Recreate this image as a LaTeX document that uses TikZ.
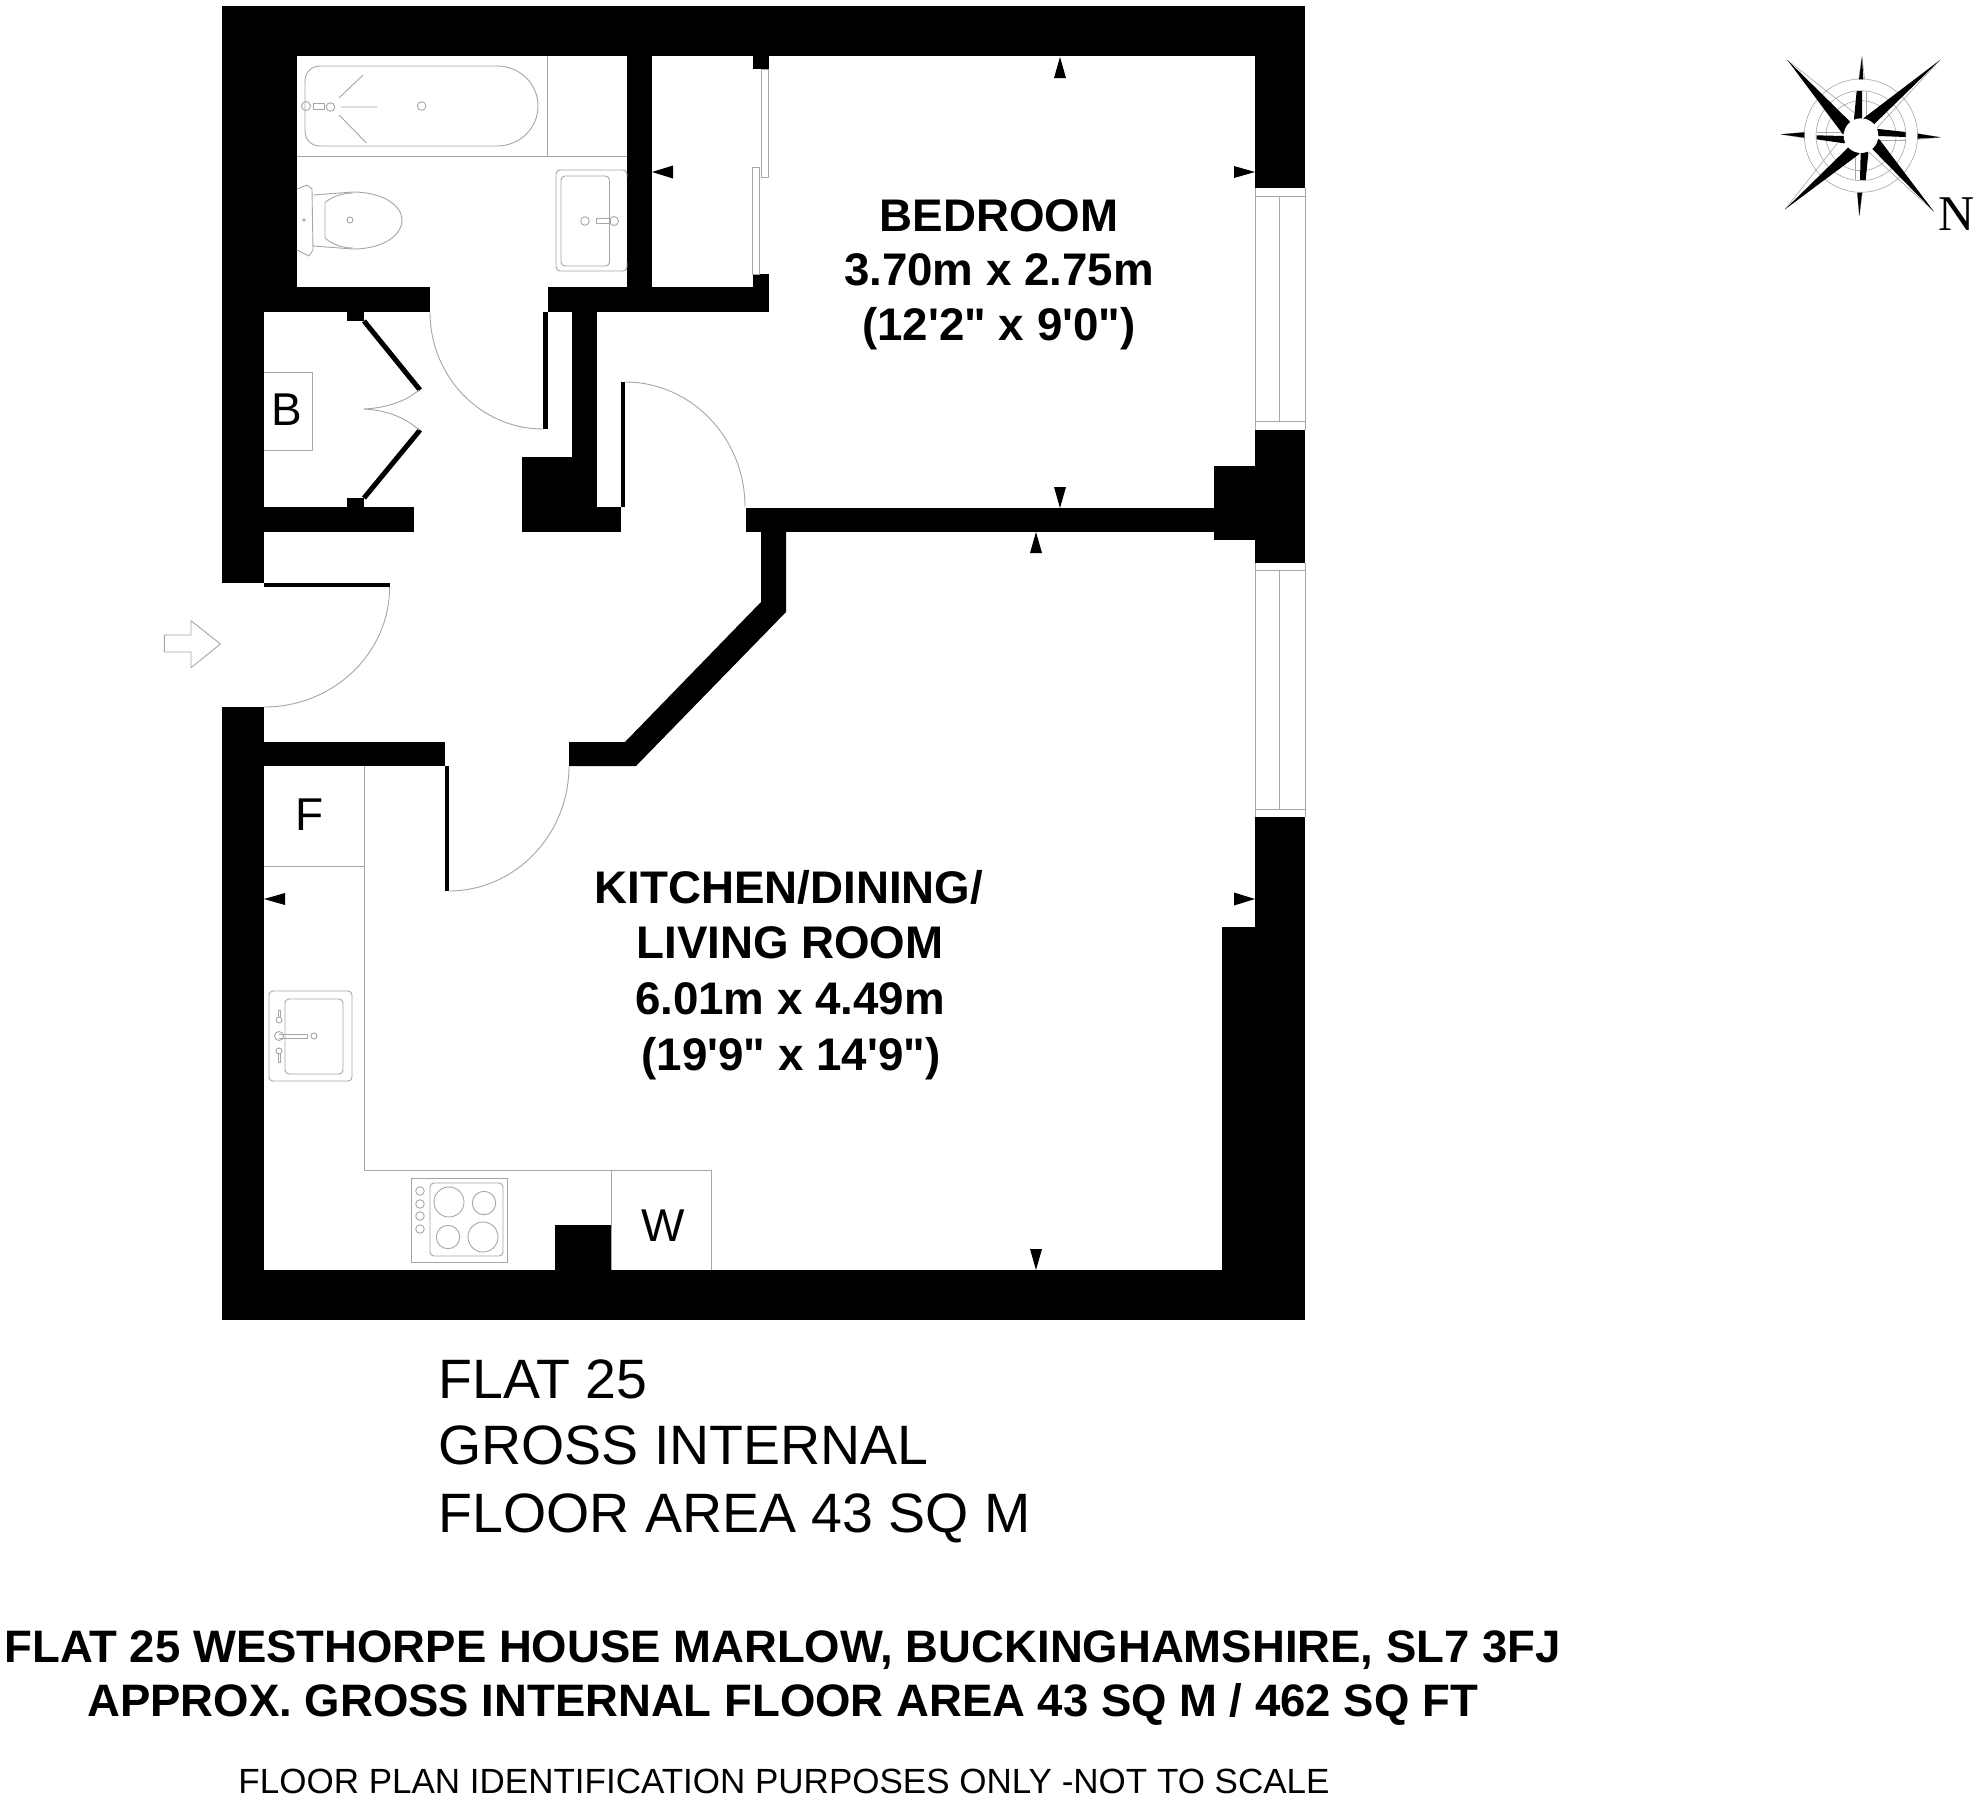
\documentclass[tikz,border=0pt]{standalone}
\usepackage{fontspec}
\setmainfont[Ligatures=TeXOff]{Liberation Sans}
\newfontfamily\serifN{Liberation Serif}
\usetikzlibrary{calc}
\definecolor{linegray}{HTML}{A6A6A6}
\tikzset{
  wall/.style={fill=black,draw=none},
  thin line/.style={draw=linegray,line width=0.9pt,line join=round},
  compass line/.style={draw=linegray,line width=0.6pt,line join=round},
  leaf/.style={draw=black,line width=5pt},
  label/.style={inner sep=0pt,outer sep=0pt,text=black},
  roomtxt/.style={label,anchor=base,font=\fontsize{45.7}{45.7}\selectfont\bfseries},
  lettertxt/.style={label,anchor=base,font=\fontsize{46}{46}\selectfont},
  areatxt/.style={label,anchor=base west,font=\fontsize{55.5}{55.5}\selectfont},
  headtxt/.style={label,anchor=base,font=\fontsize{45.5}{45.5}\selectfont\bfseries},
}
\newcommand\qarc[3]{\draw[thin line] (#1) .. controls ($(#1)!.5523!(#2)$) and ($(#3)!.5523!(#2)$) .. (#3);}
\newcommand\wrect[2]{\fill[wall] (#1) rectangle (#2);}
\begin{document}
\begin{tikzpicture}[x=1pt,y=-1pt]
\useasboundingbox (0,0) rectangle (1976,1800);
\fill[white] (0,0) rectangle (1976,1800);
% walls
\wrect{222,6}{1305,56}
\wrect{222,6}{264,583}
\wrect{222,6}{297,312}
\wrect{222,287}{430,312}
\wrect{547.5,287}{768.7,312}
\wrect{627,56}{652,287}
\wrect{752.6,56}{768.7,69}
\wrect{752.6,274}{768.7,287}
\wrect{572,312}{597,507}
\wrect{522,457}{597,532}
\wrect{597,507}{621,532}
\wrect{347,312}{364,321}
\wrect{347,498}{364,507}
\wrect{264,507}{413.5,532}
\wrect{746,508}{1214,532}
\fill[wall] (761,532)--(786,532)--(786,612)--(636,766)--(569,766)--(569,742)--(625,742)--(761,602)--cycle;
\wrect{1255,6}{1305,188}
\wrect{1255,429.5}{1305,563}
\wrect{1214,466}{1255,540}
\wrect{1255,817}{1305,1320}
\wrect{1222,926.5}{1255,1320}
\wrect{222,1270}{1305,1320}
\wrect{222,707}{264,1320}
\wrect{264,742}{444.7,766}
\wrect{555,1225}{611.7,1270}
% door leaves
\wrect{621,382}{625,507}
\wrect{543,312}{547.5,429}
\wrect{264,583}{389.6,587}
\wrect{444.7,766}{448.5,891}
\draw[leaf] (364,321)--(420,390);
\draw[leaf] (364,498)--(420,430);
% door swings
\qarc{430,312}{430,429}{543,429}
\qarc{625,382}{745,382}{745,507}
\qarc{389.6,587}{389.6,707}{264,707}
\qarc{569,766}{569,891}{448.5,891}
\draw[thin line] (364,409) .. controls (385,408) and (405,402) .. (419,390);
\draw[thin line] (364,409) .. controls (385,410) and (405,417) .. (419,430);
% sliding wardrobe doors
\draw[thin line] (761.4,69) rectangle (768.7,177);
\draw[thin line] (752.6,167) rectangle (759.5,274);
% windows
\draw[thin line] (1255,188)--(1255,429.5) (1305,188)--(1305,429.5) (1279.6,196)--(1279.6,421) (1255,196)--(1305,196) (1255,421)--(1305,421);
\draw[thin line] (1255,563)--(1255,817) (1305,563)--(1305,817) (1279.6,570)--(1279.6,809) (1255,570)--(1305,570) (1255,809)--(1305,809);
% dimension arrows
\fill (1060,57)--(1054,78)--(1066,78)--cycle;
\fill (1255,172)--(1234,166)--(1234,178)--cycle;
\fill (1060,508)--(1054,487)--(1066,487)--cycle;
\fill (1036,532)--(1030,553)--(1042,553)--cycle;
\fill (652,172)--(673,165.5)--(673,178.5)--cycle;
\fill (264,899)--(285,893)--(285,905)--cycle;
\fill (1255,899)--(1234,892.5)--(1234,905.5)--cycle;
\fill (1036,1270)--(1030,1249)--(1042,1249)--cycle;
% entrance arrow
\draw[thin line] (164.4,635)--(191,635)--(191,620.7)--(220.4,644)--(191,667.7)--(191,652)--(164.4,652)--cycle;
% fittings: bathroom
\draw[thin line] (297,156.4)--(627,156.4) (547.5,56)--(547.5,156.4);
\draw[thin line] (321,66)--(497,66) .. controls (520,66) and (538,84) .. (538,106) .. controls (538,128) and (520,146) .. (497,146)--(321,146) .. controls (311,146) and (305,140) .. (305,130)--(305,82) .. controls (305,72) and (311,66) .. (321,66)--cycle;
\draw[thin line] (306,106) circle (4.5);
\draw[thin line] (313,103.5) rectangle (324,109.5);
\draw[thin line] (330.5,107) circle (4.3) (421.6,106) circle (4.3);
\draw[thin line] (339,98)--(363,75) (341,107)--(377,107) (339,115)--(366.5,143);
\draw[thin line] (297,189)--(307,185)--(312,189)--(313,250)--(309,256)--(297,250);
\draw[thin line] (313,195)--(353,192) .. controls (382,192) and (402,205) .. (402,220) .. controls (402,236) and (382,249) .. (353,249)--(313,246);
\draw[thin line] (325,202.5) .. controls (333,196) and (343,193) .. (353,193) (325,202.5)--(325,238) .. controls (333,245) and (343,248) .. (353,248);
\draw[thin line] (350,220) circle (3) (304,220) circle (1.2);
\draw[thin line,rounded corners=4pt] (627,177)--(627,170)--(556,170)--(556,271)--(627,271)--(627,262);
\draw[thin line,rounded corners=4pt] (561,176) rectangle (609.5,266);
\draw[thin line] (585,221) circle (4.3) (614,221) circle (4.5);
\draw[thin line] (596.5,218.5) rectangle (610,223.5);
% cupboard box
\draw[thin line] (264,372.5)--(312,372.5)--(312,450)--(264,450);
\node[lettertxt] (boiler) at (286.5,425) {B};
% kitchen fittings
\draw[thin line] (264,866.7)--(364.3,866.7) (364.3,766)--(364.3,1170)--(711.7,1170)--(711.7,1270) (611.7,1170)--(611.7,1270);
\node[lettertxt] (fridge) at (310,830) {F};
\node[lettertxt] (washer) at (663,1241) {W};
\draw[thin line,rounded corners=4pt] (269,991) rectangle (352,1081);
\draw[thin line,rounded corners=4pt] (285,999) rectangle (343,1074);
\draw[thin line] (314,1036) circle (3) (279,1036) circle (4.5) (279,1020) circle (3) (279,1051) circle (3);
\draw[thin line] (279,1034)--(307,1034)--(307,1038)--(279,1038);
\draw[thin line] (278,1017)--(278,1010)--(280,1010)--(280,1017) (278,1054)--(278,1062)--(280,1062)--(280,1054);
\draw[thin line] (411,1178) rectangle (507.7,1262);
\draw[thin line,rounded corners=4pt] (430,1183) rectangle (503,1256);
\draw[thin line] (449,1202) circle (15) (484,1203) circle (11.7) (448,1237) circle (11.7) (483,1237) circle (15);
\draw[thin line] (420,1191) circle (4.3) (420,1204) circle (4.3) (420,1216) circle (4.3) (420,1229) circle (4.3);
% compass
\begin{scope}[xshift=1760pt,yshift=-40pt,x=.3333pt,y=-.3333pt]
\draw[compass line] (303,287) circle (170) (303,287) circle (135) (303,287) circle (105);
\draw[compass line] (314,118)--(306,50)--(296,118) (473,281)--(541,292)--(473,298) (133,277)--(63,283)--(133,294) (292,458)--(298,527)--(307,458);
\draw[compass line] (82,60)--(282,218) (540,60)--(350,265) (522,515)--(325,335) (75,508)--(232,310);
\draw[compass line] (318,153)--(318,232) (437,300)--(358,300) (170,276)--(252,276) (286,420)--(286,340);
\fill (82,60)--(268,243)--(303,287)--(248,282)--cycle;
\fill (540,60)--(310,235)--(303,287)--(345,250)--cycle;
\fill (522,515)--(358,298)--(303,287)--(340,330)--cycle;
\fill (75,508)--(262,325)--(303,287)--(298,342)--cycle;
\fill (282,237)--(290,153)--(306,153)--(306,232)--(303,287)--cycle;
\fill (355,267)--(437,276)--(437,291)--(355,288)--(303,287)--cycle;
\fill (170,286)--(170,298)--(252,310)--(303,287)--(250,288)--cycle;
\fill (300,420)--(317,420)--(325,340)--(303,287)--(302,340)--cycle;
\fill (306,50)--(297,118)--(310,118)--cycle;
\fill (541,292)--(473,281)--(473,296)--cycle;
\fill (63,283)--(133,277)--(133,293)--cycle;
\fill (298,527)--(292,458)--(306,458)--cycle;
\fill[white] (303,287) circle (52);
\end{scope}
\node[label,anchor=base,font=\serifN\fontsize{50}{50}\selectfont] (north) at (1957,230) {N};
% room labels
\node[roomtxt] (bed1) at (999,231) {BEDROOM};
\node[roomtxt] (bed2) at (999,285) {3.70m x 2.75m};
\node[roomtxt] (bed3) at (999,340) {(12'2" x 9'0")};
\node[roomtxt] (kit1) at (789,903) {KITCHEN/DINING/};
\node[roomtxt] (kit2) at (790,958.5) {LIVING ROOM};
\node[roomtxt] (kit3) at (790,1014) {6.01m x 4.49m};
\node[roomtxt] (kit4) at (791,1070) {(19'9" x 14'9")};
% captions
\node[areatxt] (area1) at (438.5,1398) {FLAT 25};
\node[areatxt] (area2) at (438.5,1464) {GROSS INTERNAL};
\node[areatxt] (area3) at (438.5,1532) {FLOOR AREA 43 SQ M};
\node[headtxt] (head1) at (782.6,1662) {FLAT 25 WESTHORPE HOUSE MARLOW, BUCKINGHAMSHIRE, SL7 3FJ};
\node[headtxt] (head2) at (782.6,1716) {APPROX. GROSS INTERNAL FLOOR AREA 43 SQ M / 462 SQ FT};
\node[label,anchor=base,font=\fontsize{35}{35}\selectfont] (foot) at (784,1793) {FLOOR PLAN IDENTIFICATION PURPOSES ONLY -NOT TO SCALE};
\end{tikzpicture}
\end{document}
